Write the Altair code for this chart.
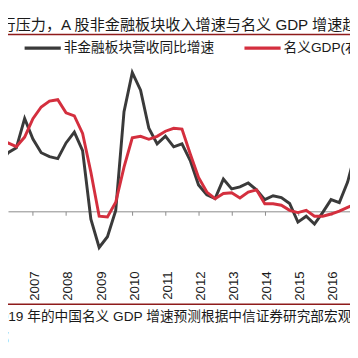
import altair as alt
import pandas as pd

# quarterly points, k = -1 .. 43  (t = 2006 + k/4)
quarter_index = list(range(-1, 44))

# 非金融板块营收同比增速 (%, left axis)
revenue_growth = [16.0, 18.8, 24.0, 26.0, 38.0, 29.6, 24.0, 22.4, 21.6, 28.0,
                  32.4, 24.8, -3.2, -14.8, -10.4, 0.4, 40.8, 56.8, 49.6, 34.0,
                  27.6, 30.8, 26.4, 27.6, 20.8, 10.8, 6.8, 5.2, 13.2, 9.2,
                  10.0, 11.6, 8.8, 4.8, 6.4, 5.6, 3.2, -4.4, -2.0, -5.2,
                  -0.4, 4.8, 3.6, 12.0, 24.8]

# 名义GDP (%, right axis)
gdp_growth = [15.1, 15.7, 16.8, 16.3, 17.6, 20.1, 21.7, 22.5, 22.7, 20.9,
              20.5, 18.1, 12.8, 6.8, 6.7, 8.7, 13.5, 17.5, 17.7, 17.3,
              17.7, 18.4, 18.8, 18.7, 15.3, 12.1, 10.1, 9.2, 9.9, 10.0,
              9.3, 10.1, 10.4, 8.5, 8.5, 8.3, 7.6, 7.3, 7.6, 6.8,
              6.8, 7.1, 7.5, 8.0, 8.5]

year_ticks = [2006, 2007, 2008, 2009, 2010, 2011, 2012, 2013, 2014, 2015, 2016]

title_text = "面临下行压力，A 股非金融板块收入增速与名义 GDP 增速趋势一致"
legend_black = "非金融板块营收同比增速"
legend_red = "名义GDP(右轴)"
footer_1 = "2019 年的中国名义 GDP 增速预测根据中信证券研究部宏观组预测"
footer_2 = "部"

BLACK = "#3a3a3a"
RED = "#d42f3e"
DARKRED = "#8e1b1b"
TXT = "#1a1a1a"
FONT = "Liberation Sans, Noto Sans CJK SC, sans-serif"

df = pd.DataFrame({
    "t": [2006 + k / 4 for k in quarter_index],
    "rev": revenue_growth,
    "gdp": gdp_growth,
})

xdom = [2006.2478, 2016.5723]
xaxis = alt.Axis(values=year_ticks, format="d", labelAngle=270, offset=-146,
                 tickSize=4, labelPadding=57, labelOffset=2, grid=False,
                 domainColor="#8a8a8a", tickColor="#8a8a8a", domainWidth=1,
                 labelFont="Liberation Sans", labelFontSize=13.5, labelColor=TXT,
                 labelOverlap=False, labelBound=False, labelFlush=False, title=None)

black_line = alt.Chart(df).mark_line(color=BLACK, strokeWidth=3, clip=True).encode(
    x=alt.X("t:Q", scale=alt.Scale(domain=xdom, nice=False, zero=False), axis=xaxis),
    y=alt.Y("rev:Q", scale=alt.Scale(domain=[-58.4, 81.6], nice=False, zero=False), axis=None),
)
red_line = alt.Chart(df).mark_line(color=RED, strokeWidth=3, clip=True).encode(
    x=alt.X("t:Q", scale=alt.Scale(domain=xdom, nice=False, zero=False), axis=xaxis),
    y=alt.Y("gdp:Q", scale=alt.Scale(domain=[-12, 34.667], nice=False, zero=False), axis=None),
)

dummy = pd.DataFrame({"d": [0]})


def txt(s, x, y, size, baseline="alphabetic"):
    return alt.Chart(dummy).mark_text(text=s, align="left", baseline=baseline,
                                      fontSize=size, font=FONT, color=TXT).encode(
        x=alt.value(x), y=alt.value(y))


def rule(x1, x2, y, color, w):
    return alt.Chart(dummy).mark_rule(color=color, strokeWidth=w).encode(
        x=alt.value(x1), x2=alt.value(x2), y=alt.value(y))


deco = [
    txt(title_text, -7.5 - 3 * 15.5, 18, 15.5),
    rule(-10, 360, 23, DARKRED, 1.5),
    rule(17, 54, 37, BLACK, 3.5),
    txt(legend_black, 57, 37, 14, baseline="middle"),
    rule(242, 279, 37, RED, 3.5),
    txt(legend_red, 282, 37, 14, baseline="middle"),
    rule(-10, 360, 299, DARKRED, 1.5),
    txt(footer_1, -15.3, 316.5, 14),
    txt(footer_2, -13, 339, 14),
]

chart = alt.layer(black_line, red_line, *deco).resolve_scale(y="independent").properties(
    width=350, height=350,
    autosize=alt.AutoSizeParams(type="none"),
    padding=0,
    background="white",
).configure_view(stroke=None)

chart.save("out.html", embed_options={"renderer": "svg", "actions": False})
